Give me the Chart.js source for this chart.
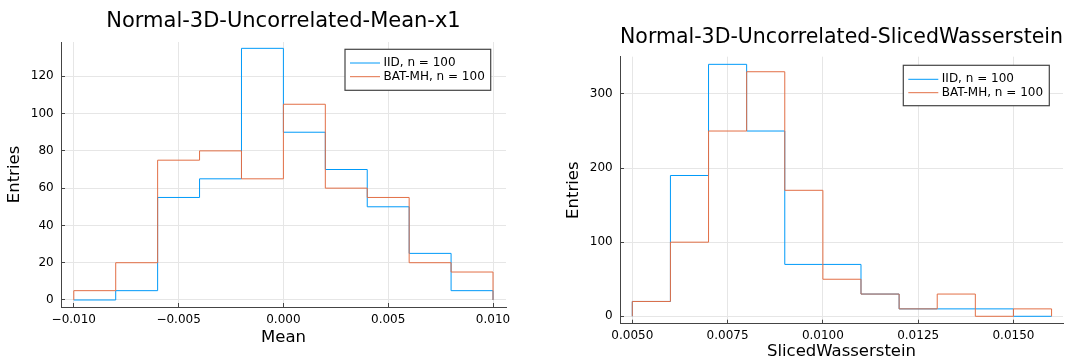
<!DOCTYPE html>
<html>
<head>
<meta charset="utf-8">
<script src="https://cdn.jsdelivr.net/npm/chart.js@4/dist/chart.umd.min.js"></script>
<style>
  html, body { margin: 0; padding: 0; background: #fff; }
  body { width: 1081px; height: 363px; position: relative; overflow: hidden; }
  .box { position: absolute; top: 0; height: 363px; }
</style>
</head>
<body>
<div class="box" style="left:0;width:540px"><canvas id="meanChart"></canvas></div>
<div class="box" style="left:540px;width:541px"><canvas id="swChart"></canvas></div>
<script>
// series names
const seriesNames = ['IID, n = 100', 'BAT-MH, n = 100'];

// left panel: Mean of x1
const meanEdges = [-0.010, -0.008, -0.006, -0.004, -0.002, 0.000, 0.002, 0.004, 0.006, 0.008, 0.010];
const meanIID = [0, 5, 55, 65, 135, 90, 70, 50, 25, 5];
const meanBAT = [5, 20, 75, 80, 65, 105, 60, 55, 20, 15];
const meanXTicks = [-0.010, -0.005, 0.000, 0.005, 0.010];
const meanXLabels = ['\u22120.010', '\u22120.005', '0.000', '0.005', '0.010'];
const meanYTicks = [0, 20, 40, 60, 80, 100, 120];

// right panel: SlicedWasserstein
const swEdges = [0.005, 0.006, 0.007, 0.008, 0.009, 0.010, 0.011, 0.012, 0.013, 0.014, 0.015, 0.016];
const swIID = [20, 190, 340, 250, 70, 70, 30, 10, 10, 10, 0];
const swBAT = [20, 100, 250, 330, 170, 50, 30, 10, 30, 0, 10];
const swXTicks = [0.0050, 0.0075, 0.0100, 0.0125, 0.0150];
const swXLabels = ['0.0050', '0.0075', '0.0100', '0.0125', '0.0150'];
const swYTicks = [0, 100, 200, 300];

const blue = '#009af9';
const orange = '#e26f46';
const font = 'DejaVu Sans';

// outline of a histogram: start at 0, walk the bins, drop back to 0
function stepPoints(edges, vals) {
  const pts = [{ x: edges[0], y: 0 }];
  vals.forEach((v, i) => pts.push({ x: edges[i], y: v }));
  pts.push({ x: edges[edges.length - 1], y: 0 });
  return pts;
}

// legend box drawn inside the plot, Plots.jl style
const boxLegend = {
  id: 'boxLegend',
  afterDraw(chart, args, opts) {
    const ctx = chart.ctx;
    const a = chart.chartArea;
    const left = a.right - opts.right - opts.w;
    const top = a.top + opts.top;
    ctx.save();
    ctx.fillStyle = '#fff';
    ctx.fillRect(left, top, opts.w, opts.h);
    ctx.strokeStyle = '#444';
    ctx.lineWidth = 1.2;
    ctx.strokeRect(left, top, opts.w, opts.h);
    ctx.font = '12px "' + font + '"';
    ctx.textBaseline = 'middle';
    ctx.textAlign = 'left';
    opts.rows.forEach((dy, i) => {
      const ds = chart.data.datasets[i];
      ctx.strokeStyle = ds.borderColor;
      ctx.lineWidth = 1;
      ctx.beginPath();
      ctx.moveTo(left + 5, top + dy);
      ctx.lineTo(left + 35, top + dy);
      ctx.stroke();
      ctx.fillStyle = '#000';
      ctx.fillText(ds.label, left + 38.5, top + dy);
    });
    ctx.restore();
  }
};

function makeChart(id, cfg) {
  const ctx = document.getElementById(id).getContext('2d');
  return new Chart(ctx, {
    type: 'line',
    data: {
      datasets: [{
        label: seriesNames[0],
        data: stepPoints(cfg.edges, cfg.iid),
        borderColor: blue,
        borderWidth: 1,
        order: 1
      }, {
        label: seriesNames[1],
        data: stepPoints(cfg.edges, cfg.bat),
        borderColor: orange,
        borderWidth: 1,
        order: 0
      }]
    },
    options: {
      responsive: true,
      maintainAspectRatio: false,
      animation: false,
      stepped: 'before',
      elements: {
        point: { radius: 0 },
        line: { tension: 0, fill: false }
      },
      layout: { padding: { left: 0, right: cfg.padRight, top: 0, bottom: 0 } },
      scales: {
        x: {
          type: 'linear',
          min: cfg.xMin,
          max: cfg.xMax,
          afterBuildTicks: s => { s.ticks = cfg.xTicks.map(v => ({ value: v })); },
          afterFit: s => { s.height = cfg.xHeight; },
          ticks: {
            color: '#000',
            font: { family: font, size: 12 },
            padding: cfg.xTickPad,
            maxRotation: 0,
            autoSkip: false,
            callback: (v, i) => cfg.xLabels[i]
          },
          grid: { color: '#e6e6e6', tickColor: '#444', tickLength: -4, tickWidth: 1 },
          border: { color: '#444', width: 1 },
          title: {
            display: true,
            text: cfg.xTitle,
            color: '#000',
            font: { family: font, size: 16.5 },
            padding: { top: 0, bottom: cfg.xTitlePad }
          }
        },
        y: {
          min: cfg.yMin,
          max: cfg.yMax,
          afterBuildTicks: s => { s.ticks = cfg.yTicks.map(v => ({ value: v })); },
          afterFit: s => { s.width = cfg.yWidth; },
          ticks: {
            color: '#000',
            font: { family: font, size: 12 },
            padding: 11.3,
            callback: v => String(v)
          },
          grid: { color: '#e6e6e6', tickColor: '#444', tickLength: -4, tickWidth: 1 },
          border: { color: '#444', width: 1 },
          title: {
            display: true,
            text: 'Entries',
            color: '#000',
            font: { family: font, size: 16.5 },
            padding: { top: cfg.yTitlePad, bottom: 0 }
          }
        }
      },
      plugins: {
        legend: { display: false },
        tooltip: { enabled: false },
        title: {
          display: true,
          text: cfg.title,
          fullSize: false,
          color: '#000',
          font: { family: font, size: 21, weight: 'normal' },
          padding: cfg.titlePad
        },
        boxLegend: cfg.legend
      }
    },
    plugins: [boxLegend]
  });
}

makeChart('meanChart', {
  edges: meanEdges, iid: meanIID, bat: meanBAT,
  xTicks: meanXTicks, xLabels: meanXLabels, yTicks: meanYTicks,
  xMin: -0.01061, xMax: 0.01062, yMin: -3.76, yMax: 138.4,
  title: 'Normal-3D-Uncorrelated-Mean-x1', xTitle: 'Mean',
  padRight: 34, yWidth: 61, xHeight: 56,
  titlePad: { top: 9, bottom: 7.8 },
  xTickPad: 9.5, xTitlePad: 15.3, yTitlePad: 5.1,
  legend: { right: 15.3, top: 7.3, w: 145.7, h: 41, rows: [13.7, 27.4] }
});

makeChart('swChart', {
  edges: swEdges, iid: swIID, bat: swBAT,
  xTicks: swXTicks, xLabels: swXLabels, yTicks: swYTicks,
  xMin: 0.004677, xMax: 0.0163, yMin: -10, yMax: 350.3,
  title: 'Normal-3D-Uncorrelated-SlicedWasserstein', xTitle: 'SlicedWasserstein',
  padRight: 18, yWidth: 80, xHeight: 39.3,
  titlePad: { top: 25.2, bottom: 6.3 },
  xTickPad: 9, xTitlePad: 1.1, yTitlePad: 23.4,
  legend: { right: 13.7, top: 8.6, w: 146, h: 40.4, rows: [14, 27.4] }
});
</script>
</body>
</html>
